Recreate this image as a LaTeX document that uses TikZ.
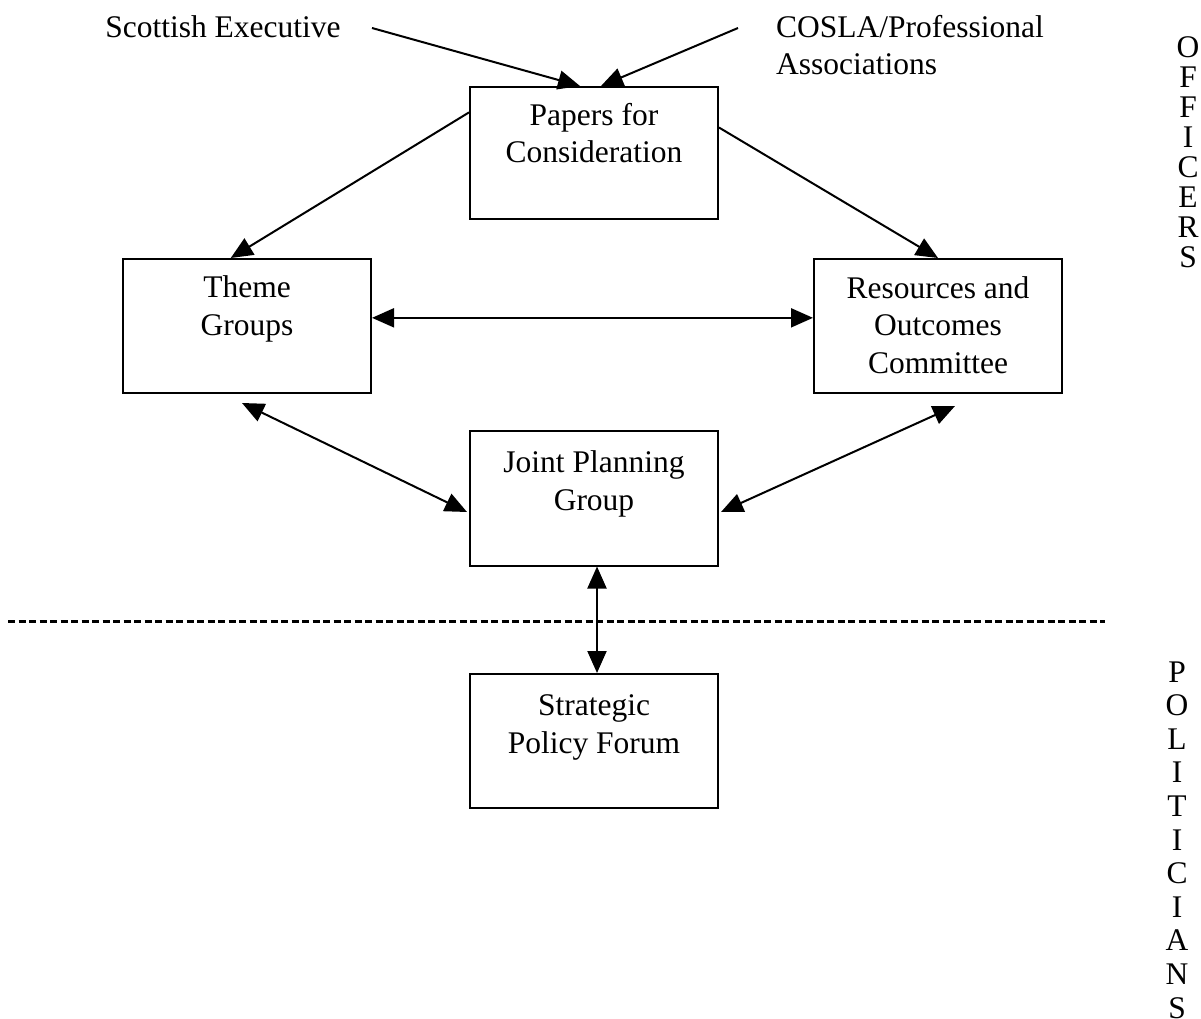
\documentclass[tikz,border=0pt]{standalone}
\usepackage{fontspec}
\setmainfont{Liberation Serif}
\usetikzlibrary{arrows.meta,calc}
\begin{document}
\begin{tikzpicture}[x=1pt,y=-1pt,
  box/.style={draw, line width=2pt, inner sep=0pt, minimum width=248pt},
  lbl/.style={font=\fontsize{31.5}{37.5}\selectfont, align=center, anchor=base, inner sep=0pt},
  con/.style={line width=2pt, -{Triangle[length=22pt,width=19pt]}},
  bicon/.style={line width=2pt, {Triangle[length=22pt,width=19pt]}-{Triangle[length=22pt,width=19pt]}},
  dashline/.style={line width=3.3pt, dash pattern=on 7.3pt off 3.2pt}
]
\useasboundingbox (0,0) rectangle (1201,1019);

% boxes
\node[box, minimum height=132pt] (papers) at (594,153) {};
\node[box, minimum height=134pt] (theme) at (247,326) {};
\node[box, minimum height=134pt] (res) at (938,326) {};
\node[box, minimum height=135pt] (jpg) at (594,498) {};
\node[box, minimum height=134pt] (spf) at (594,741) {};

% box texts (anchor base = last line baseline)
\node[lbl] (tpapers) at (594,163) {Papers for\\Consideration};
\node[lbl] (ttheme) at (247,335) {Theme\\Groups};
\node[lbl] (tres) at (938,373) {Resources and\\Outcomes\\Committee};
\node[lbl] (tjpg) at (594,510) {Joint Planning\\Group};
\node[lbl] (tspf) at (594,753) {Strategic\\Policy Forum};

% sources
\node[lbl] (scot) at (223,38) {Scottish Executive};
\node[lbl, align=left, anchor=base west] (cosla) at (776,75) {COSLA/Professional\\Associations};

% side labels
\node[lbl, font=\fontsize{31.5}{30}\selectfont] (off) at (1188,267) {O\\F\\F\\I\\C\\E\\R\\S};
\node[lbl, font=\fontsize{31.5}{33.6}\selectfont] (pol) at (1177,1018) {P\\O\\L\\I\\T\\I\\C\\I\\A\\N\\S};

% free ends
\coordinate (scotEnd) at (372,28);
\coordinate (coslaEnd) at (738,28);

% connectors
\draw[con] (scotEnd) -- ($(papers.north west)!0.444!(papers.north east)$);
\draw[con] (coslaEnd) -- ($(papers.north west)!0.528!(papers.north east)$);
\draw[con] ($(papers.north west)!0.197!(papers.south west)$) -- ($(theme.north west)!0.435!(theme.north east)$);
\draw[con] ($(papers.north east)!0.31!(papers.south east)$) -- (res.north);
\draw[bicon] ($(theme.north east)!0.44!(theme.south east)$) -- ($(res.north west)!0.44!(res.south west)$);
\draw[bicon] ($(theme.south)+(-5,9)$) -- ($(jpg.west)+(-2,14)$);
\draw[bicon] ($(res.south)+(17,12)$) -- ($(jpg.east)+(2,14)$);
\draw[bicon] ($(jpg.south)+(3,0)$) -- ($(spf.north)+(3,0)$);

% divider
\coordinate (dl) at (8,621.5);
\coordinate (dr) at (1105,621.5);
\draw[dashline] (dl) -- (dr);
\end{tikzpicture}
\end{document}
